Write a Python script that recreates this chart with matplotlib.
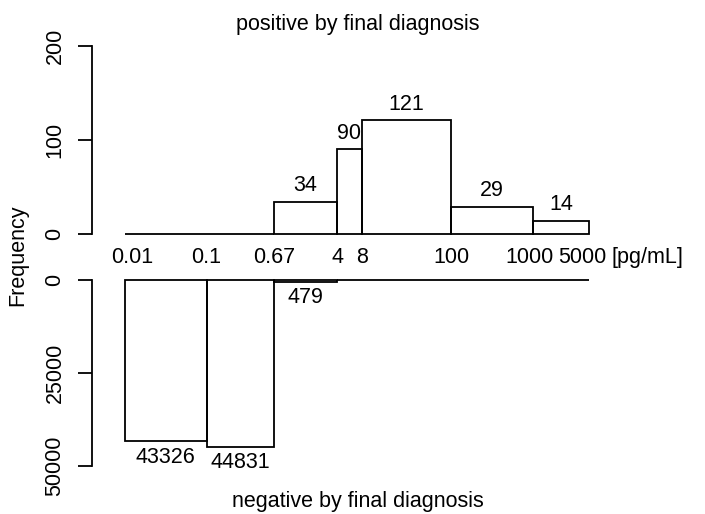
import numpy as np
import matplotlib.pyplot as plt

plt.rcParams['font.family'] = ['Liberation Sans', 'DejaVu Sans']

# bin edges [pg/mL] and counts
edges = [0.01, 0.1, 0.67, 4, 8, 100, 1000, 5000]
edge_labels = ['0.01', '0.1', '0.67', '4', '8', '100', '1000', '5000']
pos_counts = [0, 0, 34, 90, 121, 29, 14]
neg_counts = [43326, 44831, 479, 0, 0, 0, 0]

W, H = 705, 514
fs = 15.5
fig = plt.figure(figsize=(W / 100, H / 100), dpi=100)

left, right = 92, 620
# log10 position of axes edges (81.5 px per decade, 0.01 at x=125)
xlo = 10 ** (-2 - (125 - left) / 81.5)
xhi = 10 ** (-2 + (right - 125) / 81.5)

ax1 = fig.add_axes([left / W, 1 - 234 / H, (right - left) / W, 188 / H])
ax2 = fig.add_axes([left / W, 1 - 466 / H, (right - left) / W, 186 / H])

e = np.array(edges)
widths = e[1:] - e[:-1]
centers = np.sqrt(e[1:] * e[:-1])
lw = 1.3

for ax in (ax1, ax2):
    ax.set_xscale('log')
    ax.set_xlim(xlo, xhi)
    for s in ('top', 'right', 'bottom'):
        ax.spines[s].set_visible(False)
    ax.spines['left'].set_linewidth(lw)
    ax.tick_params(axis='y', length=10, width=lw, labelsize=fs, pad=9)
    ax.set_xticks([])
    ax.minorticks_off()
    ax.patch.set_alpha(0)

# positive panel
ax1.bar(edges[:-1], pos_counts, width=widths, align='edge', fill=False,
        edgecolor='black', linewidth=lw, clip_on=False)
ax1.set_ylim(0, 200)
ax1.spines['left'].set_bounds(0, 200)
ax1.set_yticks([0, 100, 200])
ax1.set_yticklabels(['0', '100', '200'], rotation=90, va='center')
for c, v in zip(centers, pos_counts):
    if v > 0:
        ax1.annotate(str(v), (c, v), xytext=(0, 4), textcoords='offset points',
                     ha='center', va='bottom', fontsize=fs)

# edge labels between the panels (outer ones nudged so they don't collide)
nudge = {'0.01': 5, '1000': -2, '5000': -5}
for x, lab in zip(edges, edge_labels):
    ax1.annotate(lab, (x, 0), xytext=(nudge.get(lab, 0), -17),
                 textcoords='offset points', ha='center', va='center',
                 fontsize=fs, annotation_clip=False)
ax1.annotate('[pg/mL]', (5000, 0), xytext=(16, -17), textcoords='offset points',
             ha='left', va='center', fontsize=fs, annotation_clip=False)

# negative panel
ax2.bar(edges[:-1], neg_counts, width=widths, align='edge', fill=False,
        edgecolor='black', linewidth=lw, clip_on=False)
ax2.set_ylim(50000, 0)
ax2.spines['left'].set_bounds(0, 50000)
ax2.set_yticks([0, 25000, 50000])
ax2.set_yticklabels(['0', '25000', '50000'], rotation=90, va='center')
for c, v in zip(centers, neg_counts):
    if v > 0:
        ax2.annotate(str(v), (c, v), xytext=(0, -4), textcoords='offset points',
                     ha='center', va='top', fontsize=fs)

fig.text(358 / W, 1 - 24 / H, 'positive by final diagnosis', ha='center',
         va='center', fontsize=fs)
fig.text(358 / W, 1 - 502 / H, 'negative by final diagnosis', ha='center',
         va='center', fontsize=fs)
fig.text(18 / W, 1 - 255 / H, 'Frequency', rotation=90, ha='center',
         va='center', fontsize=fs)

fig.savefig('out.png', dpi=100)
